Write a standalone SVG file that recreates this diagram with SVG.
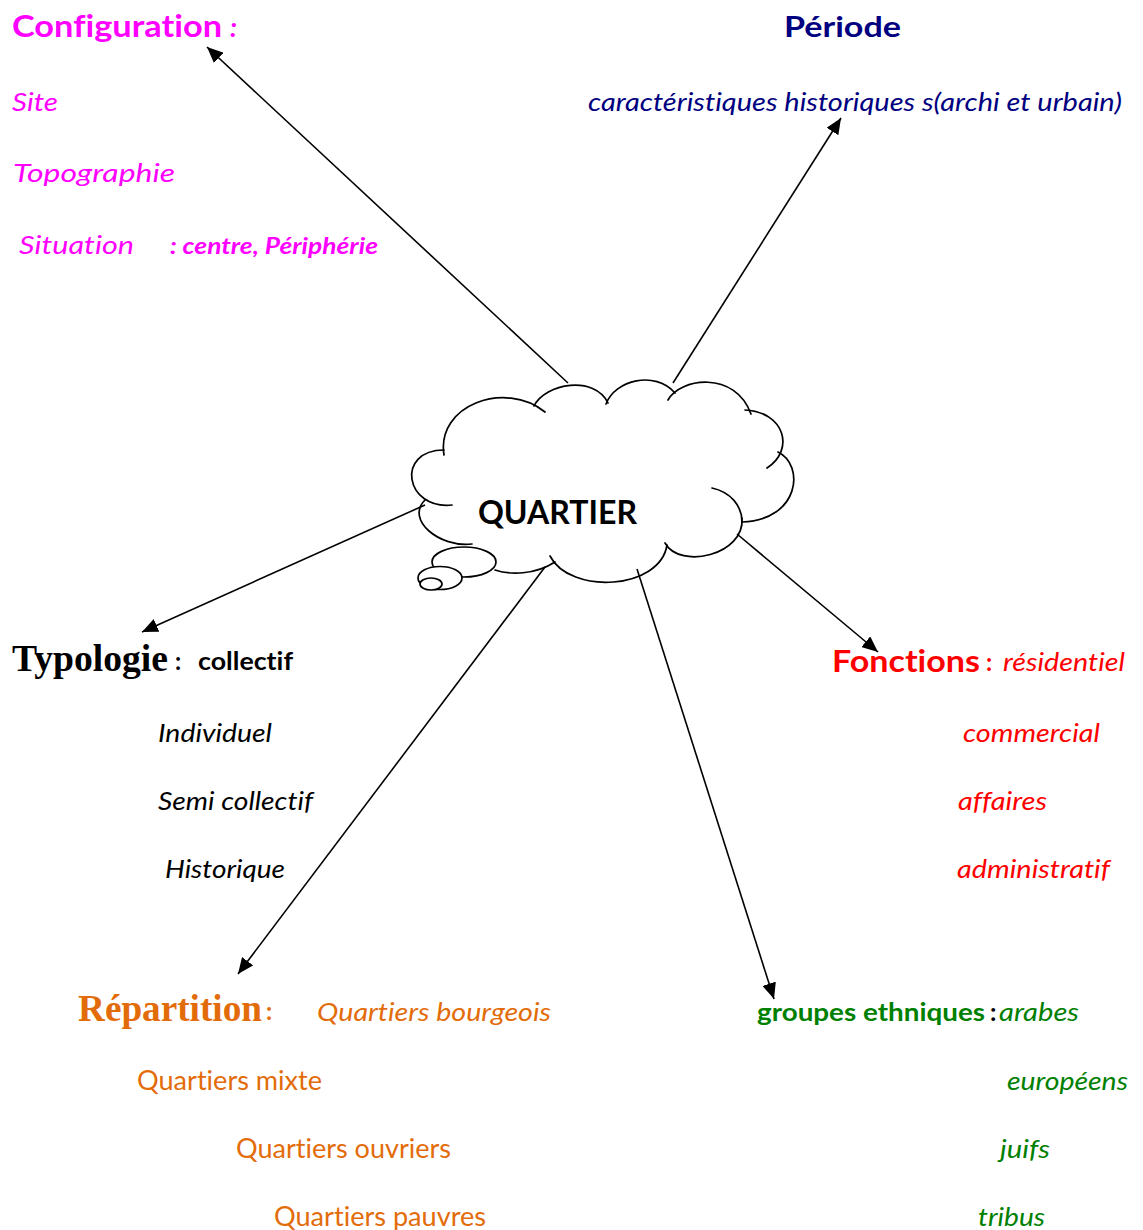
<svg xmlns="http://www.w3.org/2000/svg" width="1143" height="1230" viewBox="0 0 1143 1230">
<defs>
<style>
.s{font-family:Lato,"Open Sans","Liberation Sans",sans-serif;font-variant-ligatures:none}
.b{font-weight:bold}
.i{font-style:italic}
.tm{font-family:"Liberation Serif","Times New Roman",serif;font-weight:bold}
.mag{fill:#FF00FF}
.nav{fill:#000080}
.red{fill:#FF0000}
.org{fill:#E36C0A}
.grn{fill:#008000}
.blk{fill:#000000}
.cl{fill:none;stroke:#000;stroke-width:1.7;stroke-linecap:round}
.bub{fill:#fff;stroke:#000;stroke-width:1.7}
.ar{fill:none;stroke:#000;stroke-width:1.6}
</style>
<marker id="ah" markerUnits="userSpaceOnUse" markerWidth="17" markerHeight="14" refX="16" refY="7" orient="auto">
<path d="M0,0 L16,7 L0,14 z" fill="#000"/>
</marker>
</defs>
<rect width="1143" height="1230" fill="#fff"/>

<g id="connectors">
<line class="ar" x1="568" y1="383" x2="207" y2="47" marker-end="url(#ah)"/>
<line class="ar" x1="673" y1="383" x2="841" y2="118" marker-end="url(#ah)"/>
<line class="ar" x1="425" y1="505" x2="142" y2="632" marker-end="url(#ah)"/>
<line class="ar" x1="737" y1="534" x2="878" y2="652" marker-end="url(#ah)"/>
<line class="ar" x1="545" y1="567" x2="238" y2="974" marker-end="url(#ah)"/>
<line class="ar" x1="637" y1="569" x2="774" y2="999" marker-end="url(#ah)"/>
</g>

<g id="quartier">
<path class="cl" d="M444,455 C436,405 505,380 545,412"/>
<path class="cl" d="M534,406 C545,383 595,375 608,403"/>
<path class="cl" d="M606,404 C615,380 655,370 675,393"/>
<path class="cl" d="M668,400 C680,378 735,370 751,414"/>
<path class="cl" d="M745,410 C785,412 795,450 767,468"/>
<path class="cl" d="M778,452 C805,465 800,520 742,522"/>
<path class="cl" d="M712,488 C730,492 742,505 742,522"/>
<path class="cl" d="M742,518 C745,555 680,570 665,543"/>
<path class="cl" d="M667,545 C660,590 570,595 550,556"/>
<path class="cl" d="M555,562 C535,575 510,575 495,570"/>
<path class="cl" d="M472,544 C440,548 405,520 425,500"/>
<path class="cl" d="M452,505 C405,510 395,450 444,450"/>
<ellipse class="bub" cx="464" cy="562" rx="32" ry="15"/>
<ellipse class="bub" cx="440" cy="578" rx="22" ry="11.5"/>
<ellipse class="bub" cx="431" cy="584" rx="11" ry="6"/>
<text class="s b blk" x="478" y="524" font-size="32" textLength="159" lengthAdjust="spacingAndGlyphs">QUARTIER</text>
</g>

<g id="configuration">
<text class="s b mag" x="12" y="37" font-size="30" textLength="210" lengthAdjust="spacingAndGlyphs">Configuration</text>
<text class="s b i mag" x="230" y="37" font-size="27">:</text>
<text class="s i mag" x="12" y="111" font-size="26" textLength="46" lengthAdjust="spacingAndGlyphs">Site</text>
<text class="s i mag" x="13" y="182" font-size="26" textLength="162" lengthAdjust="spacingAndGlyphs">Topographie</text>
<text class="s i mag" x="19" y="254" font-size="26" textLength="115" lengthAdjust="spacingAndGlyphs">Situation</text>
<text class="s b i mag" x="170" y="254" font-size="22" textLength="208" lengthAdjust="spacingAndGlyphs">: centre, Périphérie</text>
</g>

<g id="periode">
<text class="s b nav" x="784" y="37" font-size="29" textLength="117" lengthAdjust="spacingAndGlyphs">Période</text>
<text class="s i nav" x="588" y="111" font-size="25" textLength="534" lengthAdjust="spacingAndGlyphs">caractéristiques historiques s(archi et urbain)</text>
</g>

<g id="typologie">
<text class="tm blk" x="12" y="671" font-size="37" textLength="156" lengthAdjust="spacingAndGlyphs">Typologie</text>
<text class="s b blk" x="175" y="670" font-size="24">:</text>
<text class="s b blk" x="198" y="670" font-size="24" textLength="95" lengthAdjust="spacingAndGlyphs">collectif</text>
<text class="s i blk" x="158" y="742" font-size="26" textLength="114" lengthAdjust="spacingAndGlyphs">Individuel</text>
<text class="s i blk" x="158" y="810" font-size="26" textLength="155" lengthAdjust="spacingAndGlyphs">Semi collectif</text>
<text class="s i blk" x="165" y="878" font-size="26" textLength="120" lengthAdjust="spacingAndGlyphs">Historique</text>
</g>

<g id="fonctions">
<text class="s b red" x="832" y="672" font-size="30" textLength="148" lengthAdjust="spacingAndGlyphs">Fonctions</text>
<text class="s b red" x="986" y="671" font-size="24">:</text>
<text class="s i red" x="1003" y="671" font-size="26" textLength="122" lengthAdjust="spacingAndGlyphs">résidentiel</text>
<text class="s i red" x="963" y="742" font-size="26" textLength="137" lengthAdjust="spacingAndGlyphs">commercial</text>
<text class="s i red" x="958" y="810" font-size="26" textLength="89" lengthAdjust="spacingAndGlyphs">affaires</text>
<text class="s i red" x="957" y="878" font-size="26" textLength="153" lengthAdjust="spacingAndGlyphs">administratif</text>
</g>

<g id="repartition">
<text class="tm org" x="78" y="1021" font-size="37" textLength="184" lengthAdjust="spacingAndGlyphs">Répartition</text>
<text class="s b org" x="266" y="1020" font-size="24">:</text>
<text class="s i org" x="317" y="1021" font-size="26" textLength="234" lengthAdjust="spacingAndGlyphs">Quartiers bourgeois</text>
<text class="s org" x="137" y="1090" font-size="26" textLength="185" lengthAdjust="spacingAndGlyphs">Quartiers mixte</text>
<text class="s org" x="236" y="1158" font-size="26" textLength="215" lengthAdjust="spacingAndGlyphs">Quartiers ouvriers</text>
<text class="s org" x="274" y="1226" font-size="26" textLength="212" lengthAdjust="spacingAndGlyphs">Quartiers pauvres</text>
</g>

<g id="groupes">
<text class="s b grn" x="757" y="1021" font-size="25" textLength="228" lengthAdjust="spacingAndGlyphs">groupes ethniques</text>
<text class="s b blk" x="990" y="1021" font-size="25">:</text>
<text class="s i grn" x="999" y="1021" font-size="26" textLength="80" lengthAdjust="spacingAndGlyphs">arabes</text>
<text class="s i grn" x="1007" y="1090" font-size="26" textLength="121" lengthAdjust="spacingAndGlyphs">européens</text>
<text class="s i grn" x="1000" y="1158" font-size="26" textLength="50" lengthAdjust="spacingAndGlyphs">juifs</text>
<text class="s i grn" x="978" y="1226" font-size="26" textLength="67" lengthAdjust="spacingAndGlyphs">tribus</text>
</g>
</svg>
